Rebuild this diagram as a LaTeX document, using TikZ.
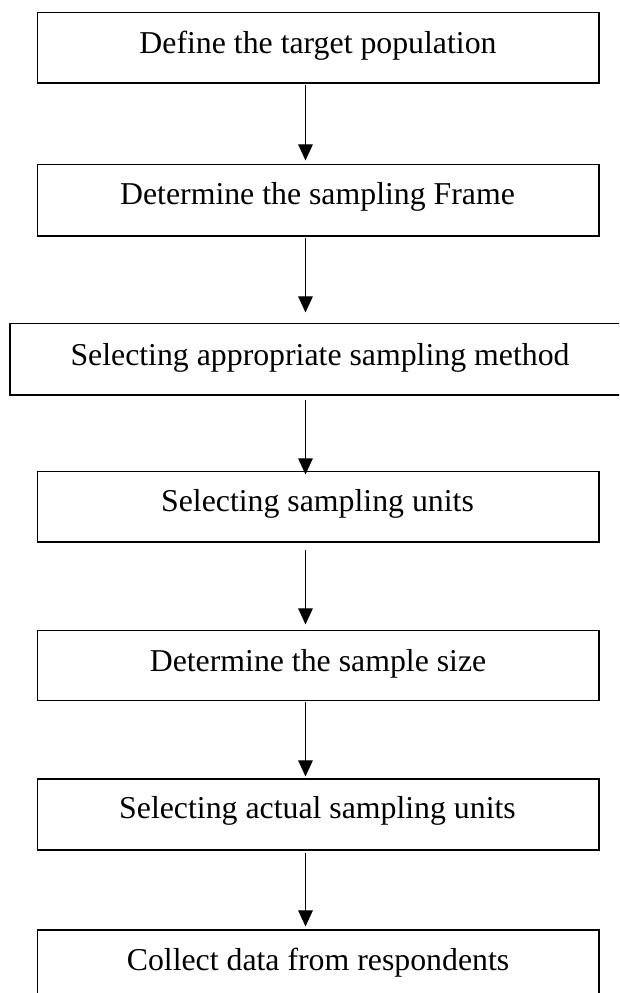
\documentclass[tikz,border=0pt]{standalone}
\usepackage{fontspec}
\setmainfont{Liberation Serif}
\usetikzlibrary{arrows.meta}
\begin{document}
\begin{tikzpicture}[x=1pt,y=-1pt,
  stepbox/.style={draw=black,line width=1.1pt,inner sep=0pt,minimum width=561.5pt,rectangle},
  steplabel/.style={anchor=base,inner sep=0pt,font=\fontsize{31.8}{36}\selectfont},
  flow/.style={draw=black,line width=1pt,-{Triangle[width=14.5pt,length=16pt]}}]
\clip (0,0) rectangle (619,993);
\fill[white] (0,0) rectangle (619,993);
% boxes
\node[stepbox,minimum height=70.3pt] (b1) at (318.25,47.85) {};
\node[stepbox,minimum height=71.7pt] (b2) at (318.25,200.15) {};
\node[stepbox,minimum height=71.7pt,minimum width=630pt] (b3) at (325,359.15) {};
\node[stepbox,minimum height=70.3pt] (b4) at (318.25,506.85) {};
\node[stepbox,minimum height=70.4pt] (b5) at (318.25,665.5) {};
\node[stepbox,minimum height=71pt] (b6) at (318.25,814.5) {};
\node[stepbox,minimum height=80pt] (b7) at (318.25,970) {};
% labels
\node[steplabel] (t1) at (318,53.3) {Define the target population};
\node[steplabel] (t2) at (317.5,204) {Determine the sampling Frame};
\node[steplabel] (t3) at (320,365) {Selecting appropriate sampling method};
\node[steplabel] (t4) at (317.5,511.7) {Selecting sampling units};
\node[steplabel] (t5) at (318,671) {Determine the sample size};
\node[steplabel] (t6) at (317.5,818) {Selecting actual sampling units};
\node[steplabel] (t7) at (318,970) {Collect data from respondents};
% connectors
\coordinate (ax) at (305.5,0);
\draw[flow,shorten <=1pt,shorten >=3.3pt] (b1.south -| ax) -- (b2.north -| ax);
\draw[flow,shorten <=1pt,shorten >=10.3pt] (b2.south -| ax) -- (b3.north -| ax);
\draw[flow,shorten <=4pt,shorten >=-3.3pt] (b3.south -| ax) -- (b4.north -| ax);
\draw[flow,shorten <=7pt,shorten >=5.3pt] (b4.south -| ax) -- (b5.north -| ax);
\draw[flow,shorten <=0.3pt,shorten >=2pt] (b5.south -| ax) -- (b6.north -| ax);
\draw[flow,shorten <=2pt,shorten >=3pt] (b6.south -| ax) -- (b7.north -| ax);
\end{tikzpicture}
\end{document}
